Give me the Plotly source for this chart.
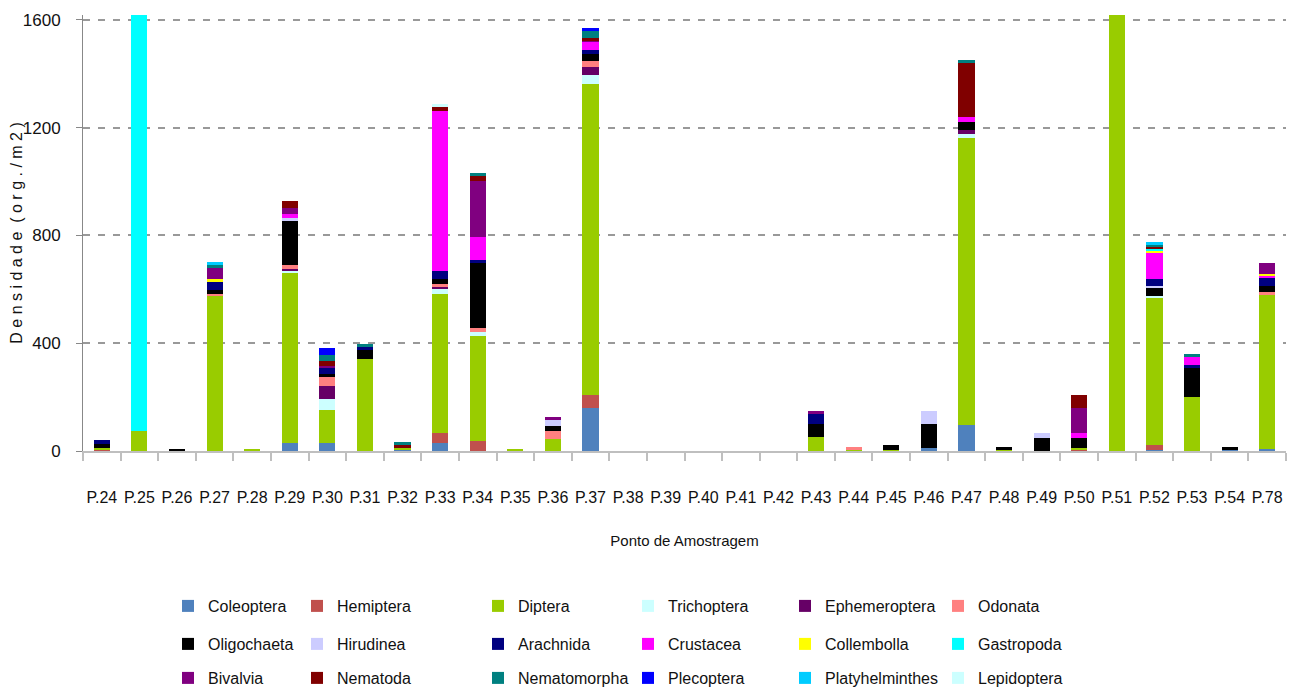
import plotly.graph_objects as go

# sampling points
pontos = ["P.24", "P.25", "P.26", "P.27", "P.28", "P.29", "P.30", "P.31",
          "P.32", "P.33", "P.34", "P.35", "P.36", "P.37", "P.38", "P.39",
          "P.40", "P.41", "P.42", "P.43", "P.44", "P.45", "P.46", "P.47",
          "P.48", "P.49", "P.50", "P.51", "P.52", "P.53", "P.54", "P.78"]

# density per taxon (org./m2)
coleoptera = [0, 0, 0, 0, 0, 30, 30, 0,
              5, 28, 0, 0, 0, 161, 0, 0,
              0, 0, 0, 0, 0, 0, 10, 96,
              0, 0, 0, 0, 5, 0, 3, 7]
hemiptera = [5, 0, 0, 0, 0, 0, 0, 0,
             0, 38, 37, 0, 0, 47, 0, 0,
             0, 0, 0, 0, 0, 0, 0, 0,
             0, 0, 4, 0, 17, 0, 0, 0]
diptera = [5, 74, 0, 576, 7, 631, 122, 341,
           7, 516, 390, 7, 45, 1154, 0, 0,
           0, 0, 0, 51, 4, 4, 0, 1065,
           5, 0, 9, 1700, 546, 200, 0, 575]
trichoptera = [0, 0, 0, 0, 0, 7, 41, 0,
               0, 21, 15, 0, 0, 32, 0, 0,
               0, 0, 0, 0, 0, 0, 0, 15,
               0, 0, 0, 0, 7, 0, 0, 0]
ephemeroptera = [0, 0, 0, 0, 0, 9, 48, 0,
                 0, 9, 0, 0, 0, 31, 0, 0,
                 0, 0, 0, 0, 0, 0, 0, 15,
                 0, 0, 0, 0, 0, 0, 0, 0]
odonata = [0, 0, 0, 7, 0, 14, 37, 0,
           0, 7, 15, 0, 30, 22, 0, 0,
           0, 0, 0, 0, 10, 0, 0, 0,
           0, 0, 0, 0, 0, 0, 0, 7]
oligochaeta = [16, 0, 8, 14, 0, 163, 7, 37,
               0, 19, 241, 0, 19, 26, 0, 0,
               0, 0, 0, 48, 0, 17, 89, 30,
               10, 49, 37, 0, 30, 108, 12, 22]
hirudinea = [0, 0, 0, 0, 0, 11, 0, 0,
             0, 0, 0, 0, 22, 0, 0, 0,
             0, 0, 0, 0, 0, 0, 48, 0,
             0, 19, 0, 0, 7, 0, 0, 0]
arachnida = [13, 0, 0, 33, 0, 0, 22, 7,
             0, 30, 11, 0, 0, 15, 0, 0,
             0, 0, 0, 37, 0, 0, 0, 0,
             0, 0, 0, 0, 26, 11, 0, 33]
crustacea = [0, 0, 0, 0, 0, 16, 0, 0,
             0, 594, 85, 0, 0, 30, 0, 0,
             0, 0, 0, 0, 0, 0, 0, 19,
             0, 0, 15, 0, 100, 30, 0, 7]
collembolla = [0, 0, 0, 7, 0, 0, 0, 0,
               0, 0, 0, 0, 0, 0, 0, 0,
               0, 0, 0, 0, 0, 0, 0, 0,
               0, 0, 0, 0, 7, 0, 0, 7]
gastropoda = [0, 1800, 0, 0, 0, 0, 0, 0,
              0, 0, 0, 0, 0, 0, 0, 0,
              0, 0, 0, 0, 0, 0, 0, 0,
              0, 0, 0, 0, 7, 0, 0, 0]
bivalvia = [0, 0, 0, 45, 0, 21, 9, 0,
            0, 0, 208, 0, 11, 7, 0, 0,
            0, 0, 0, 11, 0, 0, 0, 0,
            0, 0, 96, 0, 0, 0, 0, 41]
nematoda = [0, 0, 0, 0, 0, 26, 17, 0,
            10, 15, 19, 0, 0, 7, 0, 0,
            0, 0, 0, 0, 0, 0, 0, 200,
            0, 0, 48, 0, 7, 0, 0, 0]
nematomorpha = [0, 0, 0, 7, 0, 0, 22, 11,
                11, 0, 11, 0, 0, 26, 0, 0,
                0, 0, 0, 0, 0, 0, 0, 11,
                0, 0, 0, 0, 7, 11, 0, 0]
plecoptera = [0, 0, 0, 0, 0, 0, 26, 0,
              0, 0, 0, 0, 0, 11, 0, 0,
              0, 0, 0, 0, 0, 0, 0, 0,
              0, 0, 0, 0, 0, 0, 0, 0]
platyhelminthes = [0, 0, 0, 11, 0, 0, 0, 0,
                   0, 0, 0, 0, 0, 0, 0, 0,
                   0, 0, 0, 0, 0, 0, 0, 0,
                   0, 0, 0, 0, 11, 0, 0, 0]
lepidoptera = [0, 0, 0, 0, 0, 0, 0, 0,
               0, 11, 0, 0, 0, 0, 0, 0,
               0, 0, 0, 0, 0, 0, 0, 0,
               0, 0, 0, 0, 0, 0, 0, 0]

taxa = [
    ("Coleoptera", coleoptera, "#4F81BD"),
    ("Hemiptera", hemiptera, "#C0504D"),
    ("Diptera", diptera, "#99CC00"),
    ("Trichoptera", trichoptera, "#CCFFFF"),
    ("Ephemeroptera", ephemeroptera, "#660066"),
    ("Odonata", odonata, "#FF8080"),
    ("Oligochaeta", oligochaeta, "#000000"),
    ("Hirudinea", hirudinea, "#CCCCFF"),
    ("Arachnida", arachnida, "#000080"),
    ("Crustacea", crustacea, "#FF00FF"),
    ("Collembolla", collembolla, "#FFFF00"),
    ("Gastropoda", gastropoda, "#00FFFF"),
    ("Bivalvia", bivalvia, "#800080"),
    ("Nematoda", nematoda, "#800000"),
    ("Nematomorpha", nematomorpha, "#008080"),
    ("Plecoptera", plecoptera, "#0000FF"),
    ("Platyhelminthes", platyhelminthes, "#00CCFF"),
    ("Lepidoptera", lepidoptera, "#CCFFFF"),
]

FONT = "Liberation Sans, Arial, sans-serif"

# the page body has an 8px margin, so the figure is made 8px smaller
# and everything is placed 8px up/left of where it should appear
OFF = 8
FIG_W, FIG_H = 1296 - OFF, 691 - OFF
L, W, B, H = 83 - OFF, 1203, 451 - OFF, 436   # plot area inside the figure
col_x = [208, 337, 518, 668, 825, 978]   # where each legend column's text starts (page px)
row_y = [606, 644, 678]                  # centre of each legend row (page px)

fig = go.Figure()
legends = {}
for i, (name, vals, color) in enumerate(taxa):
    key = "legend" if i == 0 else "legend%d" % (i + 1)
    fig.add_trace(go.Bar(x=pontos, y=vals, name=name, marker_color=color,
                         marker_line_width=0, legend=key))
    r, c = divmod(i, 6)
    legends[key] = dict(
        x=(col_x[c] - 40 - OFF - L) / W,
        y=(B - (row_y[r] + 17 - OFF)) / H,
        xanchor="left", yanchor="bottom", bgcolor="rgba(0,0,0,0)",
        font=dict(family=FONT, size=16, color="#111"),
    )

fig.update_layout(
    barmode="stack",
    bargap=0.57,
    width=FIG_W, height=FIG_H,
    # fixed margins: the legends below the plot must not shrink it
    margin=dict(l=L, r=FIG_W - L - W, t=B - H, b=FIG_H - B, autoexpand=False),
    plot_bgcolor="white",
    paper_bgcolor="white",
    showlegend=True,
    font=dict(family=FONT, size=16, color="#111"),
    **legends,
)

fig.update_xaxes(
    type="category",
    tickangle=0,
    showline=True, linecolor="#BFBFBF", linewidth=2,
    ticks="outside", tickson="boundaries", ticklen=8, tickcolor="#BFBFBF", tickwidth=2,
    ticklabelstandoff=31,
    showgrid=False,
    title=dict(text="Ponto de Amostragem", font=dict(family=FONT, size=15), standoff=30),
)
fig.update_yaxes(
    range=[0, 1618],
    tickvals=[0, 400, 800, 1200, 1600],
    showline=True, linecolor="#888888", linewidth=1,
    ticks="outside", ticklen=6, tickcolor="#888888",
    showgrid=True, gridcolor="#999999", gridwidth=1.5, griddash="7px,8px",
    zeroline=False,
    ticklabelstandoff=12,
    tickfont=dict(size=17),
    title=dict(text="D e n s i d a d e  ( o r g . / m 2 )", font=dict(family=FONT, size=16), standoff=4),
)

fig.write_html("out.html")
